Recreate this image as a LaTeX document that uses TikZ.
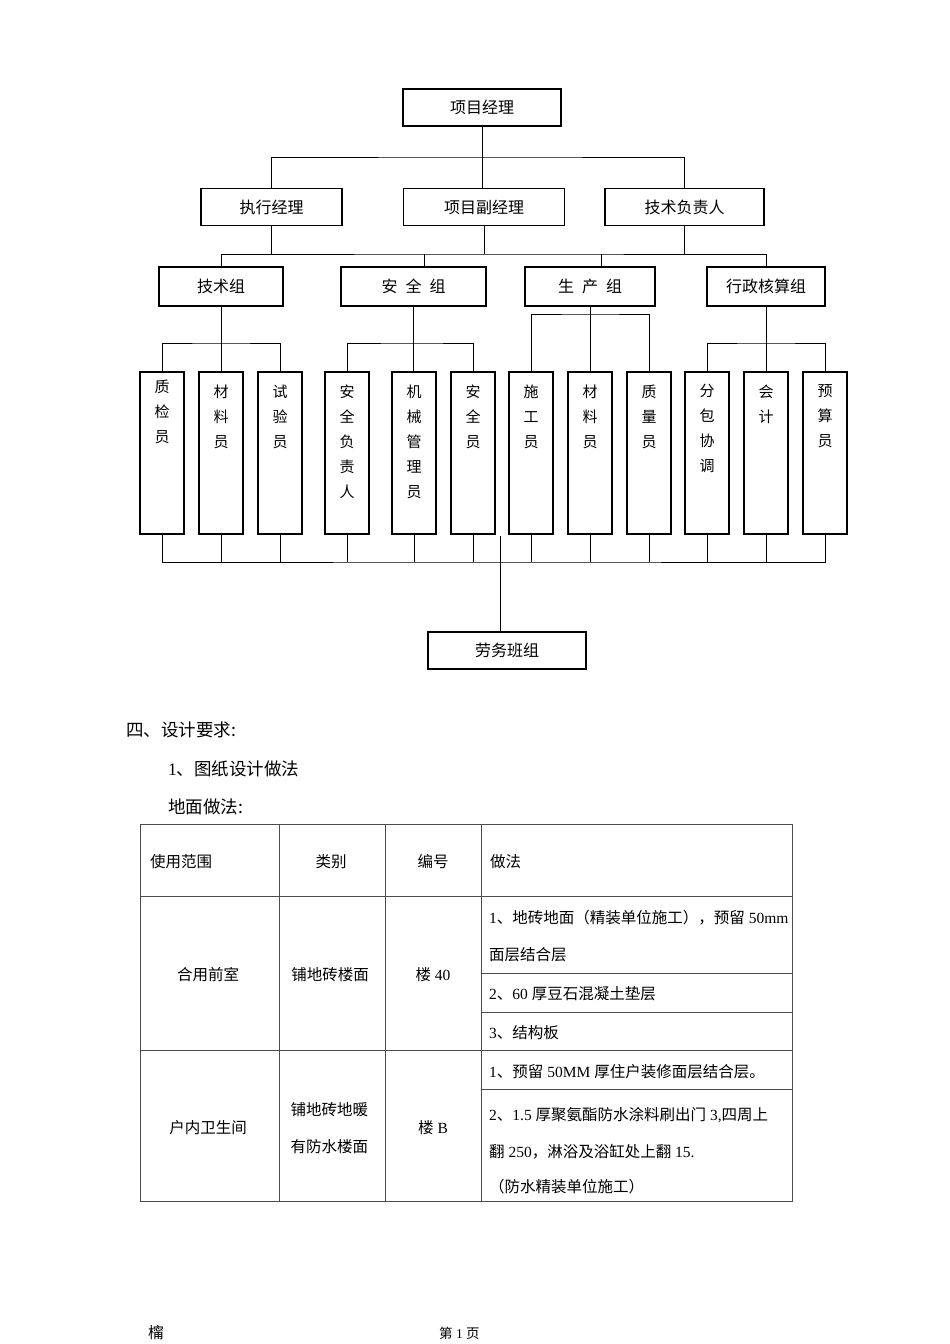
\documentclass[tikz,border=0pt]{standalone}
\usepackage{fontspec}
\setmainfont{Noto Sans CJK SC}
\newfontfamily\numfont{Liberation Serif}

\tikzset{
  box/.style={draw, line width=1.4pt, inner sep=0pt, minimum height=37pt, font=\fontsize{16}{16}\selectfont},
  staff/.style={draw, line width=1.4pt, inner sep=0pt, minimum width=44pt, minimum height=162pt},
  link/.style={line width=0.9pt},
  tab/.style={line width=0.9pt, black!70},
  cell/.style={inner sep=0pt, font=\fontsize{15.5}{15.5}\selectfont},
  head/.style={inner sep=0pt, anchor=west, font=\fontsize{17.5}{17.5}\selectfont},
}
% vertical text inside a staff box
\newcommand{\vchars}[2][12.5pt]{\parbox[c][162pt][t]{18pt}{\fontsize{15}{25}\selectfont\centering\vspace*{#1}#2}}

\begin{document}
\begin{tikzpicture}[x=1pt, y=-1pt]
  \fill[white] (0,0) rectangle (950,1344);
  \useasboundingbox (0,0) rectangle (950,1344);

  % org chart
  \node[box, minimum width=158pt] (pm)   at (482,107.5)   {项目经理};
  \node[box, minimum width=141pt] (exe)  at (271.5,207)   {执行经理};
  \node[box, minimum width=161pt] (vpm)  at (484,207)     {项目副经理};
  \node[box, minimum width=159pt] (tech) at (684.5,207)   {技术负责人};

  \node[box, minimum width=124pt, minimum height=39pt] (g1) at (221,286.5)   {技术组};
  \node[box, minimum width=145pt, minimum height=39pt] (g2) at (413.5,286.5) {安\hspace{8pt}全\hspace{8pt}组};
  \node[box, minimum width=130pt, minimum height=39pt] (g3) at (590,286.5)   {生\hspace{8pt}产\hspace{8pt}组};
  \node[box, minimum width=118pt, minimum height=39pt] (g4) at (766,286.5)   {行政核算组};

  \node[staff] (s1)  at (162,453) {\vchars[7.5pt]{质\\检\\员}};
  \node[staff] (s2)  at (221,453) {\vchars{材\\料\\员}};
  \node[staff] (s3)  at (280,453) {\vchars{试\\验\\员}};
  \node[staff] (s4)  at (347,453) {\vchars{安\\全\\负\\责\\人}};
  \node[staff] (s5)  at (414,453) {\vchars{机\\械\\管\\理\\员}};
  \node[staff] (s6)  at (473,453) {\vchars{安\\全\\员}};
  \node[staff] (s7)  at (531,453) {\vchars{施\\工\\员}};
  \node[staff] (s8)  at (590,453) {\vchars{材\\料\\员}};
  \node[staff] (s9)  at (649,453) {\vchars{质\\量\\员}};
  \node[staff] (s10) at (707,453) {\vchars{分\\包\\协\\调}};
  \node[staff] (s11) at (766,453) {\vchars{会\\计}};
  \node[staff] (s12) at (825,453) {\vchars{预\\算\\员}};

  \node[box, minimum width=158pt] (lab) at (507,650.5) {劳务班组};

  \coordinate (b1) at (483,157);
  \coordinate (b2) at (484,254);
  \coordinate (d2) at (424,254);
  \coordinate (d3) at (601,254);
  \coordinate (k1) at (221,343);
  \coordinate (k2) at (413.5,343);
  \coordinate (k3) at (590,314);
  \coordinate (k4) at (766,343);
  \coordinate (b3) at (500.5,562);
  \coordinate (lt) at (500.5,536);

  \draw[link] (pm.south)--(pm.south |- vpm.north)
        (exe.north) |- (b1) -| (tech.north)
        (exe.south)--(exe.south |- b2)
        (vpm.south)--(b2)
        (tech.south)--(tech.south |- b2)
        (g1.north) |- (b2) -| (g4.north)
        (d2)--(d2 |- g2.north)
        (d3)--(d3 |- g3.north);

  \draw[link] (g1.south)--(s2.north)
        (s1.north) |- (k1) -| (s3.north)
        (g2.south)--(g2.south |- s5.north)
        (s4.north) |- (k2) -| (s6.north)
        (g3.south)--(s8.north)
        (s7.north) |- (k3) -| (s9.north)
        (g4.south)--(s11.north)
        (s10.north) |- (k4) -| (s12.north);

  \draw[link] (s1.south) |- (b3) -| (s12.south)
        (s2.south)--(s2.south |- b3)
        (s3.south)--(s3.south |- b3)
        (s4.south)--(s4.south |- b3)
        (s5.south)--(s5.south |- b3)
        (s6.south)--(s6.south |- b3)
        (s7.south)--(s7.south |- b3)
        (s8.south)--(s8.south |- b3)
        (s9.south)--(s9.south |- b3)
        (s10.south)--(s10.south |- b3)
        (s11.south)--(s11.south |- b3)
        (lt)--(lt |- lab.north);

  % text and table
  \node[head] (t1) at (126,730) {四、设计要求:};
  \node[head] (t2) at (168,769) {{\numfont 1}、图纸设计做法};
  \node[head] (t3) at (168,806.5) {地面做法:};

  \draw[tab] (140,824) rectangle (792,1201);
  \draw[tab] (140,896)--(792,896) (140,1050)--(792,1050)
        (279,824)--(279,1201) (385,824)--(385,1201) (481,824)--(481,1201)
        (481,973)--(792,973) (481,1012)--(792,1012) (481,1089)--(792,1089);

  \node[cell, anchor=west] (c11) at (150,861.5) {使用范围};
  \node[cell] (c12) at (331,861.5) {类别};
  \node[cell] (c13) at (433,861.5) {编号};
  \node[cell, anchor=west] (c14) at (490,861.5) {做法};

  \node[cell] (c21) at (208,975) {合用前室};
  \node[cell] (c22) at (330,975) {铺地砖楼面};
  \node[cell] (c23) at (433,975) {楼{\numfont\ 40}};
  \node[cell, anchor=west] (c24) at (489,918) {{\numfont 1}、地砖地面（精装单位施工），预留{\numfont\ 50mm}};
  \node[cell, anchor=west] (c25) at (489,955) {面层结合层};
  \node[cell, anchor=west] (c26) at (489,994) {{\numfont 2}、{\numfont 60\ }厚豆石混凝土垫层};
  \node[cell, anchor=west] (c27) at (489,1033) {{\numfont 3}、结构板};

  \node[cell] (c31) at (208,1128) {户内卫生间};
  \node[cell, anchor=west] (c32) at (290.5,1110) {铺地砖地暖};
  \node[cell, anchor=west] (c33) at (290.5,1147) {有防水楼面};
  \node[cell] (c34) at (433,1128) {楼{\numfont\ B}};
  \node[cell, anchor=west] (c35) at (489,1071.5) {{\numfont 1}、预留{\numfont\ 50MM\ }厚住户装修面层结合层。};
  \node[cell, anchor=west] (c36) at (489,1115) {{\numfont 2}、{\numfont 1.5\ }厚聚氨酯防水涂料刷出门{\numfont\ 3,}四周上};
  \node[cell, anchor=west] (c37) at (489,1151.5) {翻{\numfont\ 250}，淋浴及浴缸处上翻{\numfont\ 15.}};
  \node[cell, anchor=west] (c38) at (489,1186.5) {（防水精装单位施工）};

  % footer
  \node[inner sep=0pt, anchor=west, font=\fontsize{15.5}{15.5}\selectfont] (f1) at (148,1333) {橣};
  \node[inner sep=0pt, anchor=west, font=\fontsize{13.5}{13.5}\selectfont] (f2) at (439,1333) {第{\numfont\ 1\ }页};
\end{tikzpicture}
\end{document}
